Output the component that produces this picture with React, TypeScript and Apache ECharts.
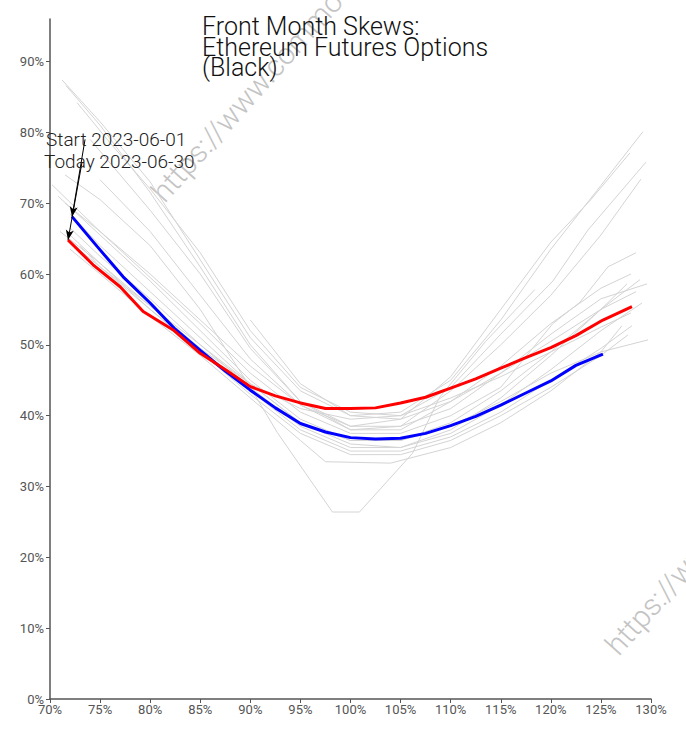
import React, { useEffect, useRef } from "react";
import * as echarts from "echarts";

const titleLines = ["Front Month Skews:", "Ethereum Futures Options", "(Black)"];
const startLabel = "Start 2023-06-01";
const todayLabel = "Today 2023-06-30";
const watermark = "https://www.commodityseasonality.com";

const xTicks = { min: 70, max: 130, interval: 5 };
const yRange = { min: 0, max: 96 };
const yTickValues = [0, 10, 20, 30, 40, 50, 60, 70, 80, 90];

// Start (2023-06-01) skew: moneyness %, implied vol %
const startStrikes = [72.2, 74.7, 77.3, 80, 82.5, 85, 87.5, 90, 92.5, 95, 97.5, 100, 102.5, 105, 107.5, 110, 112.5, 115, 117.5, 120, 122.5, 125.2];
const startVols = [68.1, 63.9, 59.6, 55.9, 52.2, 49.2, 46.3, 43.6, 41.1, 38.9, 37.7, 36.9, 36.7, 36.8, 37.5, 38.6, 39.9, 41.5, 43.2, 44.9, 47.1, 48.7];

// Today (2023-06-30) skew
const todayStrikes = [71.8, 74.3, 77, 79.3, 82.3, 85, 87.6, 90, 92.5, 95, 97.5, 100, 102.5, 105, 107.5, 110, 112.5, 115, 117.5, 120, 122.5, 125.2, 128.1];
const todayVols = [64.8, 61.3, 58.2, 54.7, 52.1, 48.8, 46.4, 44.1, 42.8, 41.8, 41.0, 41.0, 41.1, 41.8, 42.6, 43.9, 45.2, 46.7, 48.2, 49.6, 51.3, 53.5, 55.4];

// Intermediate days (grey), each as [moneyness, vol] pairs
const greyDays: number[][][] = [
  [[71.5, 74], [75, 70.5], [80, 64], [85, 55], [90, 44], [92.7, 37.6], [98.2, 26.4], [100.9, 26.4], [106.2, 34.7], [108.9, 42.6], [113.5, 50.5], [118.4, 57.8]],
  [[90, 53.5], [95, 44.5], [100, 40], [105, 39.5], [110, 42], [115, 46], [120, 50.5], [125, 55], [128.5, 57.5]],
  [[71.2, 87.4], [75, 81.5], [80, 73], [85, 62], [90, 51], [95, 43.5], [100, 40], [105, 40.5], [110, 45], [115, 53.5], [120, 63.5], [125, 72.5], [129.2, 80.1]],
  [[71.6, 86.6], [75, 81], [80, 71.5], [85, 61], [90, 50], [95, 42], [100, 38.5], [105, 39.5], [110, 45.5], [115, 55], [120, 64.5], [124, 70.5], [127.9, 77.1]],
  [[72.7, 84.2], [76, 78.5], [80, 72], [85, 63], [90, 52], [95, 44], [100, 40.5], [105, 40], [110, 44], [115, 51.5], [120.2, 59], [123.7, 66.2], [129.5, 75.8]],
  [[74, 79], [77, 74], [80, 69], [85, 60], [90, 49.5], [95, 42], [100, 38], [105, 38.5], [110, 43.5], [115, 50], [120, 57], [125, 65.5], [129, 73.4]],
  [[70.2, 72.6], [75, 66], [80, 59.5], [85, 53], [90, 46], [95, 40.5], [100, 37.5], [105, 37.5], [110, 40], [115, 44], [120.2, 53], [122.9, 56], [125.7, 61], [128.5, 63]],
  [[70.8, 71], [75, 65.5], [80, 59], [85, 52], [90, 45], [95, 39.5], [100, 36.5], [105, 36.5], [110, 39], [115, 43.5], [120, 49], [125, 55], [127.6, 58.6]],
  [[71.5, 70], [75, 66], [80, 60], [85, 53.5], [90, 47], [95, 41.5], [100, 38.5], [105, 38.5], [110, 41], [115, 46], [120, 51.5], [125, 56.5], [129.6, 58.6]],
  [[72, 68.5], [75, 64], [80, 57.5], [85, 51], [90, 44.5], [95, 39], [100, 36], [105, 35.5], [110, 38], [115, 42.5], [120, 48.5], [125, 55], [128.9, 59.2]],
  [[72, 66.5], [75, 62.5], [80, 56.5], [85, 50], [90, 44], [95, 38.5], [100, 35.5], [105, 35.5], [110, 37.5], [115, 41.5], [120, 46.5], [125, 52], [129.1, 55.9]],
  [[71, 66], [75, 61.5], [80, 55.5], [85, 49.5], [90, 43.5], [95, 38], [100, 35], [105, 35], [110, 37], [115, 40.5], [120, 45], [125, 49.5], [128.1, 52.7]],
  [[72, 64.5], [75, 61], [80, 55], [85, 49], [90, 43], [95, 37.5], [100, 34.5], [105, 34.5], [110, 36.5], [115, 40], [120, 44], [125, 48.5], [127.7, 51.4]],
  [[73, 64], [75, 61], [80, 55.5], [85, 50], [90, 44.5], [95, 39], [100, 36.5], [105, 36.5], [110, 38.5], [115, 42], [120, 46], [125, 49], [129.7, 50.7]],
  [[72, 63.5], [75, 60], [80, 54], [85, 48.5], [90, 42.5], [95, 36.5], [97.5, 33.5], [104, 33.3], [110, 35.5], [115, 39], [120, 43.5], [125, 49], [127.1, 52.7]],
  [[75, 73.3], [80, 66], [85, 57], [90, 48], [95, 41.5], [100, 38], [105, 38], [110, 42], [115, 47], [120, 53], [125, 58], [128, 60]],
  [[72, 65.5], [75, 61.5], [80, 55], [85, 49.5], [90, 44.5], [95, 41], [100, 39.5], [105, 40], [110, 42.5], [115, 45.5], [120, 49], [125, 52.5], [128, 54.5]],
];

// annotation arrow tails (data coords near the labels)
const startArrowTail = [73.5, 79.0];
const todayArrowTail = [73.2, 75.8];

const FONT = "Roboto, 'Noto Sans', sans-serif";

export default function App() {
  const ref = useRef<HTMLDivElement>(null);
  useEffect(() => {
    if (!ref.current) return;
    const chart = echarts.init(ref.current, undefined, { renderer: "svg" });
    const zip = (xs: number[], ys: number[]) => xs.map((x, i) => [x, ys[i]]);
    const greySeries = greyDays.map((d, i) => ({
      type: "line",
      name: "day" + i,
      data: d,
      showSymbol: false,
      silent: true,
      z: 1,
      lineStyle: { color: "#d4d4d4", width: 1 },
    }));
    const arrowLine = (tail: number[], head: number[]) => ({
      silent: true,
      symbol: ["none", "arrow"],
      symbolSize: [6, 10],
      label: { show: false },
      lineStyle: { color: "#000", width: 1, type: "solid" },
      data: [[{ coord: tail }, { coord: head }]],
    });
    const option: any = {
      animation: false,
      backgroundColor: "#fff",
      textStyle: { fontFamily: FONT },
      grid: { left: 50, right: 35, top: 19, bottom: 31, containLabel: false },
      xAxis: {
        type: "value",
        min: xTicks.min,
        max: xTicks.max,
        interval: xTicks.interval,
        axisLine: { show: true, lineStyle: { color: "#555", width: 1.5 } },
        axisTick: { show: true, length: 4, lineStyle: { color: "#555" } },
        axisLabel: { formatter: "{value}%", color: "#555", fontSize: 13, margin: 4, fontFamily: FONT },
        splitLine: { show: false },
      },
      yAxis: {
        type: "value",
        min: yRange.min,
        max: yRange.max,
        interval: 10,
        axisLine: { show: true, lineStyle: { color: "#555", width: 1.5 } },
        axisTick: { show: true, length: 4, lineStyle: { color: "#555" }, customValues: yTickValues },
        axisLabel: { formatter: "{value}%", color: "#555", fontSize: 13, margin: 6, fontFamily: FONT, customValues: yTickValues },
        splitLine: { show: false },
      },
      series: [
        ...greySeries,
        {
          type: "line",
          name: "Start",
          data: zip(startStrikes, startVols),
          showSymbol: false,
          z: 3,
          lineStyle: { color: "#0000ff", width: 3 },
          markLine: arrowLine(startArrowTail, [startStrikes[0], startVols[0]]),
        },
        {
          type: "line",
          name: "Today",
          data: zip(todayStrikes, todayVols),
          showSymbol: false,
          z: 4,
          lineStyle: { color: "#ff0000", width: 3 },
          markLine: arrowLine(todayArrowTail, [todayStrikes[0], todayVols[0]]),
        },
      ],
      graphic: [
        ...titleLines.map((t, i) => ({
          type: "text",
          left: 202,
          top: 14 + i * 20.5,
          z: 10,
          style: { text: t, font: `300 25px ${FONT}`, fill: "#111" },
        })),
        {
          type: "text",
          left: 46,
          top: 130,
          z: 10,
          style: { text: startLabel, font: `300 19px ${FONT}`, fill: "#222" },
        },
        {
          type: "text",
          left: 44,
          top: 152,
          z: 10,
          style: { text: todayLabel, font: `300 19px ${FONT}`, fill: "#222" },
        },
        {
          type: "text",
          x: 168,
          y: 207,
          rotation: 0.84,
          z: 0,
          style: { text: watermark, font: `300 30px ${FONT}`, fill: "#c4c4c4", textAlign: "left", textVerticalAlign: "bottom" },
        },
        {
          type: "text",
          x: 622,
          y: 660,
          rotation: 0.84,
          z: 0,
          style: { text: watermark, font: `300 30px ${FONT}`, fill: "#c4c4c4", textAlign: "left", textVerticalAlign: "bottom" },
        },
      ],
    };
    chart.setOption(option);
    return () => chart.dispose();
  }, []);
  return <div ref={ref} style={{ position: "fixed", left: 0, top: 0, width: 686, height: 730 }} />;
}
